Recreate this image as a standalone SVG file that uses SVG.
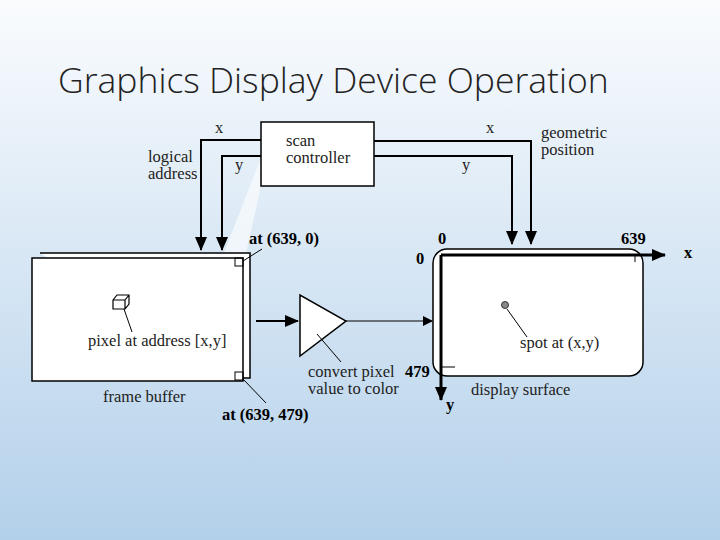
<svg xmlns="http://www.w3.org/2000/svg" width="720" height="540" viewBox="0 0 720 540">
<defs>
<linearGradient id="bg" x1="0" y1="0" x2="0" y2="1"><stop offset="0" stop-color="#fafcfe"/><stop offset="1" stop-color="#b3d0ea"/></linearGradient>
<marker id="ah" markerWidth="10" markerHeight="10" refX="9" refY="5" orient="auto" markerUnits="userSpaceOnUse" viewBox="0 0 10 10"><path d="M0,0 L10,5 L0,10 z" fill="#000"/></marker>
<marker id="ahb" markerWidth="14" markerHeight="12" refX="13" refY="6" orient="auto" markerUnits="userSpaceOnUse" viewBox="0 0 14 12"><path d="M0,0 L14,6 L0,12 z" fill="#000"/></marker>
</defs>
<style>
text{font-family:"Liberation Serif",serif;font-size:16.5px;fill:#222}
.b{font-weight:bold;fill:#000}
.w{fill:#fff;stroke:#000;stroke-width:1.5}
.l{fill:none;stroke:#000;stroke-width:1}
.c{fill:none;stroke:#000;stroke-width:2}
</style>
<rect width="720" height="540" fill="url(#bg)"/>
<text x="58" y="93" style="font-family:'Open Sans',sans-serif;font-weight:300;font-size:35.5px;fill:#222">Graphics Display Device Operation</text>
<polygon points="261,158 261,186 245,258 222,258" fill="#fff" opacity="0.6"/>
<g id="connectors">
<path class="c" d="M261,140 H201 V250" marker-end="url(#ahb)"/>
<path class="c" d="M261,156 H222 V250" marker-end="url(#ahb)"/>
<path class="c" d="M374,141 H531 V244" marker-end="url(#ahb)"/>
<path class="c" d="M374,156 H512 V244" marker-end="url(#ahb)"/>
<path class="c" d="M256,321 H298" marker-end="url(#ahb)"/>
<path class="l" d="M346,321 H432" marker-end="url(#ah)"/>
</g>
<g id="scan">
<rect class="w" x="261" y="122" width="113" height="64"/>
<text x="286" y="146">scan</text><text x="286" y="163">controller</text>
<text x="215" y="133">x</text><text x="235" y="170">y</text>
<text x="486" y="133">x</text><text x="462" y="170">y</text>
<text x="148" y="162">logical</text><text x="148" y="179">address</text>
<text x="541" y="138">geometric</text><text x="541" y="155">position</text>
</g>
<g id="framebuffer">
<path class="w" d="M40,253 H250 V378 H243"/>
<rect class="w" x="32" y="258" width="211" height="123"/>
<rect class="l" x="235" y="258" width="8" height="8"/>
<rect class="l" x="235" y="372" width="8" height="8"/>
<path class="w" d="M113,300 l4,-5 h12 v9 l-4,5 h-12 z M113,300 h12 l4,-5 M125,300 v9" style="stroke-width:1.2"/>
<line class="l" x1="124" y1="309" x2="132" y2="332"/>
<text x="88" y="346">pixel at address [x,y]</text>
<text x="103" y="402">frame buffer</text>
<line class="l" x1="243" y1="261" x2="262" y2="249"/>
<line class="l" x1="243" y1="379" x2="266" y2="403"/>
<text class="b" x="249" y="244">at (639, 0)</text>
<text class="b" x="222" y="420">at (639, 479)</text>
</g>
<g id="converter">
<polygon class="w" points="300,295 300,356 346,321"/>
<line class="l" x1="317" y1="334" x2="341" y2="362"/>
<text x="308" y="377">convert pixel</text><text x="308" y="394">value to color</text>
</g>
<g id="display">
<rect class="w" x="433" y="249" width="210" height="127" rx="14"/>
<path d="M441,255 H665" stroke="#000" stroke-width="3" marker-end="url(#ahb)"/>
<path d="M441,255 V400" stroke="#000" stroke-width="3" marker-end="url(#ahb)"/>
<line class="l" x1="635" y1="255" x2="635" y2="262"/>
<line class="l" x1="441" y1="367" x2="455" y2="367"/>
<circle cx="505" cy="305" r="3.5" fill="#888" stroke="#333"/>
<line class="l" x1="507" y1="309" x2="527" y2="337"/>
<text x="520" y="348">spot at (x,y)</text>
<text x="471" y="395">display surface</text>
<text class="b" x="438" y="244">0</text><text class="b" x="416" y="264">0</text>
<text class="b" x="621" y="244">639</text><text class="b" x="405" y="377">479</text>
<text class="b" x="684" y="258">x</text><text class="b" x="446" y="410">y</text>
</g>
</svg>
